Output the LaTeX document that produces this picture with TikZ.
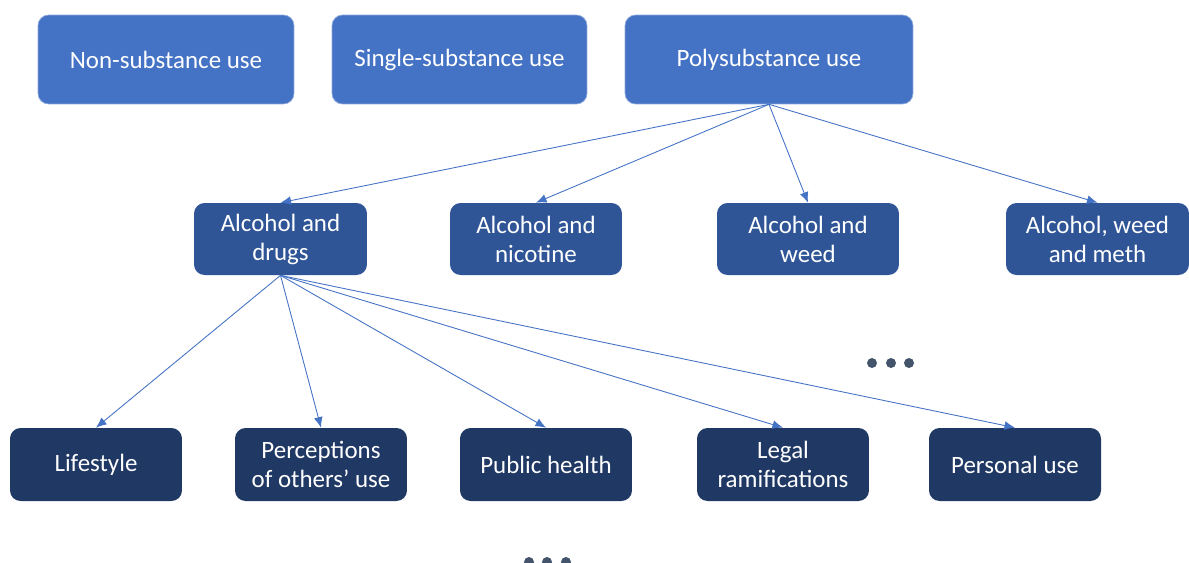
\documentclass[tikz,border=0pt]{standalone}
\usepackage{fontspec}
\setmainfont{Carlito}
\usetikzlibrary{arrows.meta}
\definecolor{topblue}{HTML}{4472C4}
\definecolor{midblue}{HTML}{2F5597}
\definecolor{lowblue}{HTML}{203864}
\definecolor{dotgray}{HTML}{44546A}
\tikzset{
 box/.style={rounded corners=6pt, text=white, align=center, inner sep=0pt,
  font=\fontsize{14.2}{16.5}\selectfont},
 link/.style={topblue, line width=0.5pt, -{Latex[length=6pt,width=5pt]}}
}

\begin{document}
\begin{tikzpicture}[x=0.02cm,y=-0.02cm]
\useasboundingbox (0,0) rectangle (1189,562);
\clip (0,0) rectangle (1189,562);
% kinds of use
\foreach \n/\x/\w/\t in {non/166/5.12/Non-substance use, single/459.5/5.1/Single-substance use, poly/769/5.76/Polysubstance use} {
 \node[box, fill=topblue, draw=topblue!60, minimum width=\w cm, minimum height=1.78cm] (\n) at (\x,59.5) {\t};
}
% combinations
\foreach \n/\x/\w/\t in {drugs/280.5/3.46/Alcohol and\\drugs, nicotine/536/3.44/Alcohol and\\nicotine, weed/808/3.64/Alcohol and\\weed, meth/1097.5/3.66/{Alcohol, weed\\and meth}} {
 \node[box, fill=midblue, minimum width=\w cm, minimum height=1.44cm] (\n) at (\x,239) {\t};
 \draw[link] (poly.south) -- (\n.north);
}
% topics
\foreach \n/\x/\t in {life/96/Lifestyle, others/321/Perceptions\\of others’ use, health/546/Public health, legal/783/Legal\\ramifications, personal/1015/Personal use} {
 \node[box, fill=lowblue, minimum width=3.44cm, minimum height=1.46cm] (\n) at (\x,464.5) {\t};
 \draw[link] (drugs.south) -- (\n.north);
}
\foreach \x in {872,891,909} \fill[dotgray] (\x,363) circle[radius=0.1cm];
\foreach \x in {529,547,566} \fill[dotgray] (\x,562) circle[radius=0.1cm];
\end{tikzpicture}
\end{document}
